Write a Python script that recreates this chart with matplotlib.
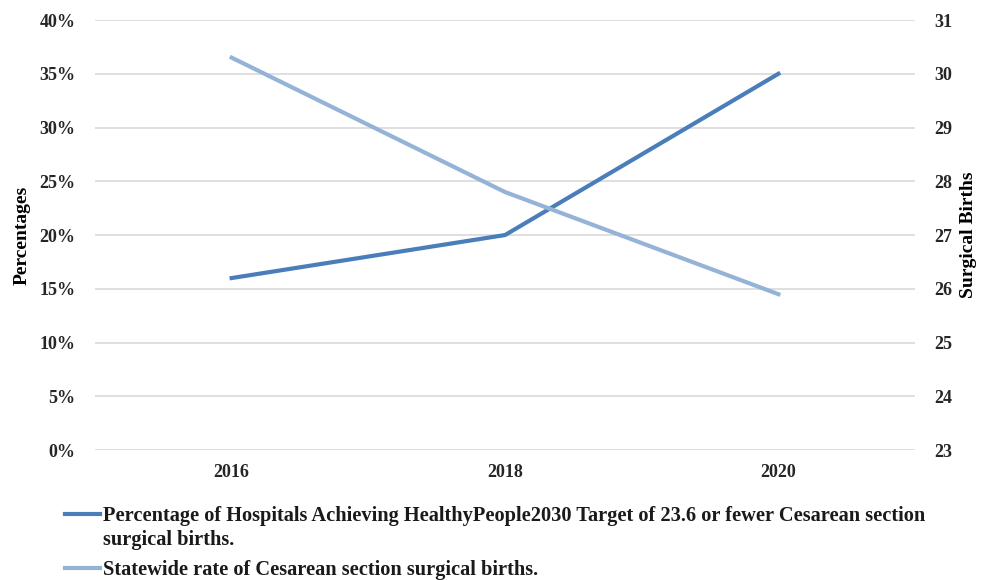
import matplotlib.pyplot as plt
from matplotlib.lines import Line2D

years = ["2016", "2018", "2020"]
pct_hospitals = [16, 20, 35]
statewide_rate = [30.3, 27.8, 25.9]

left_ticks = [0, 5, 10, 15, 20, 25, 30, 35, 40]
right_ticks = [23, 24, 25, 26, 27, 28, 29, 30, 31]

label_dark = "Percentage of Hospitals Achieving HealthyPeople2030 Target of 23.6 or fewer Cesarean section\nsurgical births."
label_light = "Statewide rate of Cesarean section surgical births."

dark = "#4a7ebb"
light = "#95b3d7"

plt.rcParams["font.family"] = ["Liberation Serif", "DejaVu Serif"]

fig = plt.figure(figsize=(9.84, 5.8), dpi=100)
ax = fig.add_axes([0.0965, 0.224, 0.8335, 0.7415])
ax2 = ax.twinx()

x = list(range(len(years)))

# gridlines
for t in left_ticks:
    ax.axhline(t, color="#d9d9d9", linewidth=1.2, zorder=0)

ax.plot(x, pct_hospitals, color=dark, linewidth=3, zorder=3)
ax2.plot(x, statewide_rate, color=light, linewidth=3, zorder=3)

ax.set_xlim(-0.5, 2.5)
ax.set_ylim(0, 40)
ax2.set_ylim(23, 31)
ax.set_xticks(x)
ax.set_xticklabels(years)
ax.set_yticks(left_ticks)
ax.set_yticklabels([f"{t}%" for t in left_ticks])
ax2.set_yticks(right_ticks)

for a in (ax, ax2):
    for s in a.spines.values():
        s.set_visible(False)
    a.tick_params(length=0, labelsize=13)
    for lab in a.get_xticklabels() + a.get_yticklabels():
        lab.set_fontweight("bold")
        lab.set_color("#262626")

ax.tick_params(axis="y", pad=14)
ax2.tick_params(axis="y", pad=14)
ax.tick_params(axis="x", pad=10)

ax.set_ylabel("Percentages", fontsize=14, fontweight="bold", labelpad=6)
ax2.set_ylabel("Surgical Births", fontsize=14, fontweight="bold", labelpad=5)

# legend drawn by hand so the handle sits on the first text line
W, H = 984, 580
entries = [(dark, label_dark, 514), (light, label_light, 568)]
for color, text, ypx in entries:
    yf = 1 - ypx / H
    fig.add_artist(Line2D([65 / W, 100 / W], [yf, yf], color=color, linewidth=3,
                          transform=fig.transFigure))
    fig.text(103 / W, yf + 8 / H, text, fontsize=14.7, fontweight="bold",
             color="#1a1a1a", va="top", ha="left", linespacing=1.3)

fig.savefig("out.png", dpi=100)
